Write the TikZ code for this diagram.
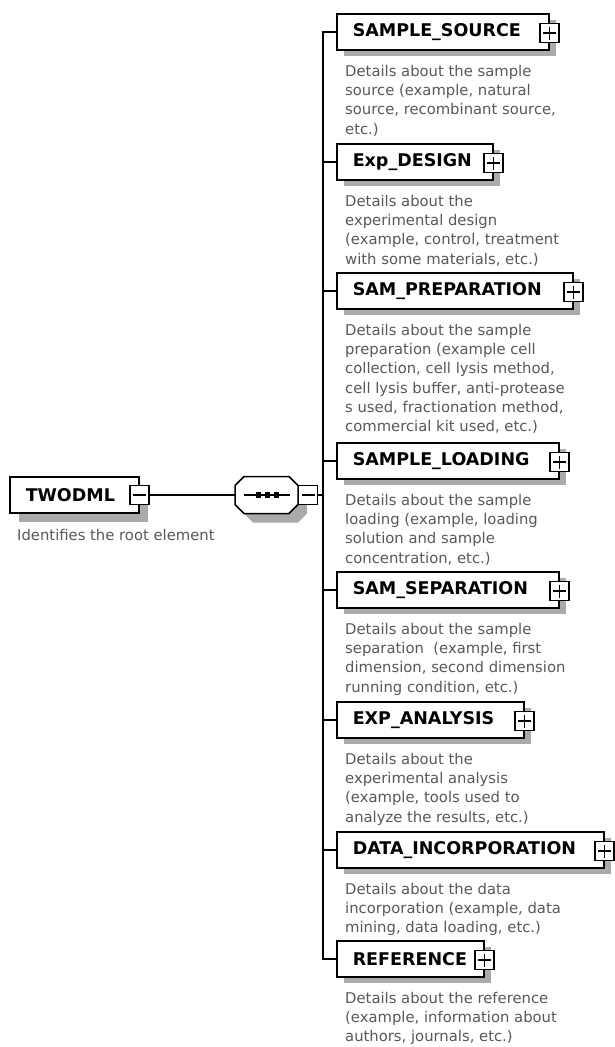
\documentclass[tikz,border=0pt]{standalone}
\usepackage{fontspec}
\setmainfont{DejaVu Sans}
\usetikzlibrary{calc,shadows}

\definecolor{descgray}{RGB}{88,88,88}
\definecolor{shadowgray}{RGB}{170,170,170}

% outline of the sequence box, cut corners of 9pt
\newcommand\seqoutline{($(seq.north west)+(9,0)$) -- ($(seq.north east)+(-9,0)$)
    -- ($(seq.north east)+(0,9)$) -- ($(seq.south east)+(0,-9)$)
    -- ($(seq.south east)+(-9,0)$) -- ($(seq.south west)+(9,0)$)
    -- ($(seq.south west)+(0,-9)$) -- ($(seq.north west)+(0,9)$) -- cycle}

\tikzset{
    wire/.style={line width=1.3pt},
    dropsh/.style 2 args={general shadow={fill=shadowgray, shadow xshift=#1pt, shadow yshift=-#2pt}},
    elembase/.style={draw, line width=1.5pt, fill=white, anchor=west,
        minimum height=36pt, inner xsep=16pt, align=left,
        font=\fontsize{17.5}{20}\selectfont\bfseries},
    elem/.style 2 args={elembase, minimum width=#1pt, text width=#2pt, dropsh={7}{6}},
    pmbox/.style={draw, line width=1.3pt, fill=white, minimum size=19pt, inner sep=0pt},
    plusbox/.style={pmbox, path picture={
        \draw[line width=1.2pt] ([xshift=3pt]path picture bounding box.west) -- ([xshift=-3pt]path picture bounding box.east)
            ([yshift=-3pt]path picture bounding box.north) -- ([yshift=3pt]path picture bounding box.south);}},
    minusbox/.style={pmbox, path picture={
        \draw[line width=1.2pt] ([xshift=3pt]path picture bounding box.west) -- ([xshift=-3pt]path picture bounding box.east);}},
    seqbox/.style={rectangle, minimum width=63pt, minimum height=37pt, inner sep=0pt, outer sep=0pt},
    dotsq/.style={fill, minimum size=5.5pt, inner sep=0pt},
    desc/.style={anchor=north west, inner sep=0pt, align=left, text=descgray,
        font=\fontsize{14.8}{19.3}\selectfont},
}

\begin{document}
\begin{tikzpicture}[x=1pt, y=-1pt]
\useasboundingbox (0,0) rectangle (615,1047);

% root element and sequence
\node[elembase, minimum width=129pt, text width=97pt, dropsh={9}{9}] (root) at (9,495) {TWODML};
\node[minusbox] (rootm) at (root.east) {};
\node[desc] (rootd) at ([xshift=8pt, yshift=-15pt]root.south west) {Identifies the root element};

\node[seqbox] (seq) at (266.5,495) {};
\fill[shadowgray, transform canvas={shift={(9pt,-9pt)}}] \seqoutline;
\filldraw[fill=white, line width=1.5pt] \seqoutline;
\draw[wire] ([xshift=-22.5pt]seq.center) -- ([xshift=23.5pt]seq.center);
\foreach \dx [count=\i] in {-8,1,10}
    \node[dotsq] (dot\i) at ([xshift=\dx pt]seq.center) {};
\node[minusbox, anchor=west] (seqm) at (seq.east) {};
\coordinate (spine) at (323,495);

\draw[wire] (rootm.east) -- (seq.west);
\draw[wire] (seqm.east) -- (spine);

% child elements
\node[elem={212}{180}] (src) at (336,32) {SAMPLE\_SOURCE};
\node[elem={156}{124}] (dsg) at (336,162) {Exp\_DESIGN};
\node[elem={236}{204}] (prep) at (336,291) {SAM\_PREPARATION};
\node[elem={222}{190}] (load) at (336,461) {SAMPLE\_LOADING};
\node[elem={222}{190}] (sep) at (336,590) {SAM\_SEPARATION};
\node[elem={187}{155}] (ana) at (336,720) {EXP\_ANALYSIS};
\node[elem={267}{235}] (inc) at (336,850) {DATA\_INCORPORATION};
\node[elem={147}{115}] (ref) at (336,959) {REFERENCE};

\foreach \n in {src,dsg,prep,load,sep,ana,inc,ref} {
    \node[plusbox] (\n p) at ([yshift=-1pt]\n.east) {};
    \draw[wire] (spine) |- (\n.west);
}

% descriptions
\node[desc] (srcd) at ([xshift=9pt, yshift=-14pt]src.south west)
    {Details about the sample\\source (example, natural\\source, recombinant source,\\etc.)};
\node[desc] (dsgd) at ([xshift=9pt, yshift=-14pt]dsg.south west)
    {Details about the\\experimental design\\(example, control, treatment\\with some materials, etc.)};
\node[desc] (prepd) at ([xshift=9pt, yshift=-14pt]prep.south west)
    {Details about the sample\\preparation (example cell\\collection, cell lysis method,\\cell lysis buffer, anti-protease\\s used, fractionation method,\\commercial kit used, etc.)};
\node[desc] (loadd) at ([xshift=9pt, yshift=-14pt]load.south west)
    {Details about the sample\\loading (example, loading\\solution and sample\\concentration, etc.)};
\node[desc] (sepd) at ([xshift=9pt, yshift=-14pt]sep.south west)
    {Details about the sample\\separation~ (example, first\\dimension, second dimension\\running condition, etc.)};
\node[desc] (anad) at ([xshift=9pt, yshift=-14pt]ana.south west)
    {Details about the\\experimental analysis\\(example, tools used to\\analyze the results, etc.)};
\node[desc] (incd) at ([xshift=9pt, yshift=-14pt]inc.south west)
    {Details about the data\\incorporation (example, data\\mining, data loading, etc.)};
\node[desc] (refd) at ([xshift=9pt, yshift=-14pt]ref.south west)
    {Details about the reference\\(example, information about\\authors, journals, etc.)};

\end{tikzpicture}
\end{document}
